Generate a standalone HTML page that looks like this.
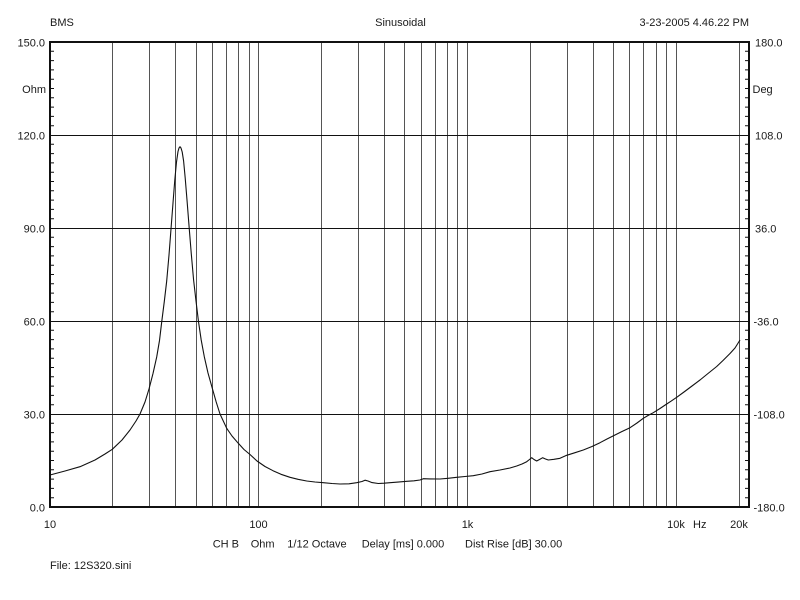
<!DOCTYPE html>
<html>
<head>
<meta charset="utf-8">
<style>
  html, body { margin:0; padding:0; background:#fff; }
  svg { display:block; }
  text { font-family: "Liberation Sans", Arial, sans-serif; font-size:11px; fill:#1a1a1a; }
</style>
</head>
<body>
<svg width="800" height="600" viewBox="0 0 800 600" xmlns="http://www.w3.org/2000/svg">
  <rect width="800" height="600" fill="#fff"/>

  <!-- header -->
  <text x="50" y="26">BMS</text>
  <text x="400.5" y="26" text-anchor="middle">Sinusoidal</text>
  <text x="749" y="26" text-anchor="end">3-23-2005 4.46.22 PM</text>

  <!-- vertical grid -->
  <g stroke="#555" stroke-width="1">
    <line x1="112.5" y1="42" x2="112.5" y2="507"/>
    <line x1="149.5" y1="42" x2="149.5" y2="507"/>
    <line x1="175.5" y1="42" x2="175.5" y2="507"/>
    <line x1="196.5" y1="42" x2="196.5" y2="507"/>
    <line x1="212.5" y1="42" x2="212.5" y2="507"/>
    <line x1="226.5" y1="42" x2="226.5" y2="507"/>
    <line x1="238.5" y1="42" x2="238.5" y2="507"/>
    <line x1="249.5" y1="42" x2="249.5" y2="507"/>
    <line x1="258.5" y1="42" x2="258.5" y2="507"/>
    <line x1="321.5" y1="42" x2="321.5" y2="507"/>
    <line x1="358.5" y1="42" x2="358.5" y2="507"/>
    <line x1="384.5" y1="42" x2="384.5" y2="507"/>
    <line x1="404.5" y1="42" x2="404.5" y2="507"/>
    <line x1="421.5" y1="42" x2="421.5" y2="507"/>
    <line x1="435.5" y1="42" x2="435.5" y2="507"/>
    <line x1="447.5" y1="42" x2="447.5" y2="507"/>
    <line x1="457.5" y1="42" x2="457.5" y2="507"/>
    <line x1="467.5" y1="42" x2="467.5" y2="507"/>
    <line x1="530.5" y1="42" x2="530.5" y2="507"/>
    <line x1="567.5" y1="42" x2="567.5" y2="507"/>
    <line x1="593.5" y1="42" x2="593.5" y2="507"/>
    <line x1="613.5" y1="42" x2="613.5" y2="507"/>
    <line x1="629.5" y1="42" x2="629.5" y2="507"/>
    <line x1="643.5" y1="42" x2="643.5" y2="507"/>
    <line x1="656.5" y1="42" x2="656.5" y2="507"/>
    <line x1="666.5" y1="42" x2="666.5" y2="507"/>
    <line x1="676.5" y1="42" x2="676.5" y2="507"/>
    <line x1="739.5" y1="42" x2="739.5" y2="507"/>
  </g>

  <!-- horizontal grid -->
  <g stroke="#111" stroke-width="1">
    <line x1="50" y1="135.5" x2="749" y2="135.5"/>
    <line x1="50" y1="228.5" x2="749" y2="228.5"/>
    <line x1="50" y1="321.5" x2="749" y2="321.5"/>
    <line x1="50" y1="414.5" x2="749" y2="414.5"/>
  </g>

  <!-- minor ticks left & right -->
  <g stroke="#111" stroke-width="1">
    <path d="
M50 51.3H54 M50 60.6H54 M50 69.9H54 M50 79.2H54 M50 88.5H54 M50 97.8H54 M50 107.1H54 M50 116.4H54 M50 125.7H54
M50 144.3H54 M50 153.6H54 M50 162.9H54 M50 172.2H54 M50 181.5H54 M50 190.8H54 M50 200.1H54 M50 209.4H54 M50 218.7H54
M50 237.3H54 M50 246.6H54 M50 255.9H54 M50 265.2H54 M50 274.5H54 M50 283.8H54 M50 293.1H54 M50 302.4H54 M50 311.7H54
M50 330.3H54 M50 339.6H54 M50 348.9H54 M50 358.2H54 M50 367.5H54 M50 376.8H54 M50 386.1H54 M50 395.4H54 M50 404.7H54
M50 423.3H54 M50 432.6H54 M50 441.9H54 M50 451.2H54 M50 460.5H54 M50 469.8H54 M50 479.1H54 M50 488.4H54 M50 497.7H54
M745 51.3H749 M745 60.6H749 M745 69.9H749 M745 79.2H749 M745 88.5H749 M745 97.8H749 M745 107.1H749 M745 116.4H749 M745 125.7H749
M745 144.3H749 M745 153.6H749 M745 162.9H749 M745 172.2H749 M745 181.5H749 M745 190.8H749 M745 200.1H749 M745 209.4H749 M745 218.7H749
M745 237.3H749 M745 246.6H749 M745 255.9H749 M745 265.2H749 M745 274.5H749 M745 283.8H749 M745 293.1H749 M745 302.4H749 M745 311.7H749
M745 330.3H749 M745 339.6H749 M745 348.9H749 M745 358.2H749 M745 367.5H749 M745 376.8H749 M745 386.1H749 M745 395.4H749 M745 404.7H749
M745 423.3H749 M745 432.6H749 M745 441.9H749 M745 451.2H749 M745 460.5H749 M745 469.8H749 M745 479.1H749 M745 488.4H749 M745 497.7H749
"/>
  </g>

  <!-- frame -->
  <rect x="50" y="42" width="699" height="465" fill="none" stroke="#111" stroke-width="2"/>

  <!-- curve -->
  <polyline fill="none" stroke="#111" stroke-width="1.1" stroke-linejoin="round" points="
50,475 65,471 80,466.7 95,460 105,454 112.3,449.3 122,440 130,430 136,421 140,414 145,402 149,389 153,373.5 156.7,357 159.5,340.5 161.7,322 164.3,301.5 166.7,281 169,255 171,229 173,203 174.8,180 176.5,162 178,151.5 179,148 180,146.7 181,148 182.2,152 183.6,161 185.2,178 187,200 189.2,228 191.3,254 193.6,280 196,301 198.5,321.7 201.2,340 204.3,356.7 208,373 212.5,389 216.2,402 220,414 226.7,428.3 232,436 238.3,443.3 244,449.5 250,454.5 257,461 265,466.5 273,470.7 281,474.3 290,477.3 298,479.3 306.7,481 315,482 323.3,482.7 332,483.5 340,484 349,483.8 356.7,482.7 362,481.5 365,480.2 368,481 372,482.6 378.3,483.5 384,483.2 390,482.7 398,482.1 406.7,481.3 414,480.8 420,480 423.3,478.7 430,478.9 440,479 448,478.3 456.7,477.3 465,476.5 473.3,475.7 482,474 490,471.7 500,470 510,468 516.7,466 522,464 526.7,461.7 529.5,459.5 531.7,457.7 534,459.5 536.7,461 539.5,459.5 542.7,457.7 545.5,459 548.3,460 554,459.3 560,458.3 566.7,455.3 575,452.7 583.3,450 592,446.5 600,442.7 607,439 615,435 622,431.5 630,427.7 637,423 643.3,418.3 648,415.5 653.3,412.7 660,408.5 666.7,404 671,401.2 676.7,397.3 684,392 692,386 700,380 708,373.5 716.7,366.5 723,360.5 730,353.5 735,348 740,340"/>

  <!-- left labels -->
  <g text-anchor="end">
    <text x="45" y="46.5">150.0</text>
    <text x="46" y="93">Ohm</text>
    <text x="45" y="139.5">120.0</text>
    <text x="45" y="232.5">90.0</text>
    <text x="45" y="325.5">60.0</text>
    <text x="45" y="418.5">30.0</text>
    <text x="45" y="511.5">0.0</text>
  </g>

  <!-- right labels -->
  <g>
    <text x="755" y="46.5">180.0</text>
    <text x="752.5" y="93">Deg</text>
    <text x="755" y="139.5">108.0</text>
    <text x="755" y="232.5">36.0</text>
    <text x="753.5" y="325.5">-36.0</text>
    <text x="753.5" y="418.5">-108.0</text>
    <text x="753.5" y="511.5">-180.0</text>
  </g>

  <!-- x labels -->
  <g text-anchor="middle">
    <text x="50" y="528">10</text>
    <text x="258.5" y="528">100</text>
    <text x="467.5" y="528">1k</text>
    <text x="676" y="528">10k</text>
    <text x="739" y="528">20k</text>
  </g>
  <text x="693" y="528">Hz</text>

  <!-- footer -->
  <text x="212.7" y="547.5">CH B</text>
  <text x="250.7" y="547.5">Ohm</text>
  <text x="287.3" y="547.5">1/12 Octave</text>
  <text x="361.7" y="547.5">Delay [ms] 0.000</text>
  <text x="465" y="547.5">Dist Rise [dB] 30.00</text>

  <text x="50" y="569">File: 12S320.sini</text>
</svg>
</body>
</html>
